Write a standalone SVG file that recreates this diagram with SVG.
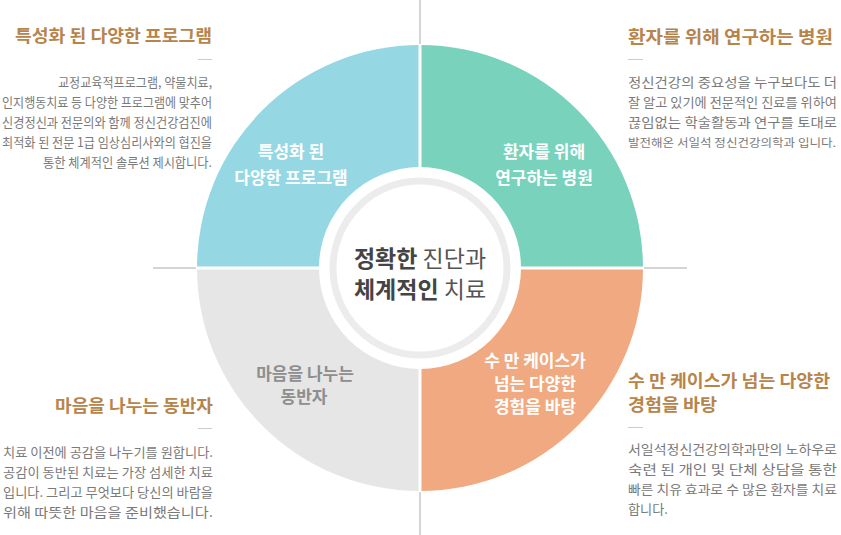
<svg xmlns="http://www.w3.org/2000/svg" width="841" height="535" viewBox="0 0 841 535">
<style>
text{font-family:"Noto Sans CJK KR","Noto Sans",sans-serif;}
.hd{font-size:17.5px;font-weight:bold;fill:#b7844b;}
.bd{font-size:13px;fill:#7a7a7a;}
.sm{font-size:11.5px;}
.ql{font-size:17px;font-weight:bold;fill:#ffffff;text-anchor:middle;}
.qg{font-size:17px;font-weight:bold;fill:#8e8e8e;text-anchor:middle;}
.guide{stroke:#d5d5d5;stroke-width:2;fill:none;}
.dash{stroke:#cccccc;stroke-width:1;}
.ct{font-size:23px;fill:#555;text-anchor:middle;}
.ctb{font-weight:bold;fill:#444;}
.re{text-anchor:end;}
</style>
<g id="connectors">
<line class="guide" x1="420" y1="0" x2="420" y2="46"/>
<line class="guide" x1="420" y1="490" x2="420" y2="535"/>
<line class="guide" x1="153" y1="268" x2="198" y2="268"/>
<line class="guide" x1="642" y1="268" x2="687" y2="268"/>
</g>
<g id="q-tl">
<path d="M420 268 L197 268 A223 223 0 0 1 420 45 Z" fill="#95d8e4"/>
<text class="ql" x="291" y="158">특성화 된</text>
<text class="ql" x="291" y="184">다양한 프로그램</text>
</g>
<g id="q-tr">
<path d="M420 268 L420 45 A223 223 0 0 1 643 268 Z" fill="#78d2bc"/>
<text class="ql" x="544" y="158">환자를 위해</text>
<text class="ql" x="544" y="184">연구하는 병원</text>
</g>
<g id="q-br">
<path d="M420 268 L643 268 A223 223 0 0 1 420 491 Z" fill="#f0a981"/>
<text class="ql" x="535" y="367">수 만 케이스가</text>
<text class="ql" x="535" y="390">넘는 다양한</text>
<text class="ql" x="535" y="413">경험을 바탕</text>
</g>
<g id="q-bl">
<path d="M420 268 L420 491 A223 223 0 0 1 197 268 Z" fill="#e6e6e6"/>
<text class="qg" x="305" y="380">마음을 나누는</text>
<text class="qg" x="304" y="403">동반자</text>
</g>
<g id="gaps">
<line x1="420" y1="44" x2="420" y2="492" stroke="#ffffff" stroke-width="3"/>
<line x1="196" y1="268" x2="644" y2="268" stroke="#ffffff" stroke-width="3"/>
</g>
<g id="center">
<circle cx="420" cy="268" r="101" fill="#ffffff"/>
<circle cx="420" cy="268" r="87" fill="#ffffff" stroke="#ececec" stroke-width="7"/>
<text class="ct" x="420" y="267"><tspan class="ctb">정확한</tspan> 진단과</text>
<text class="ct" x="420" y="298"><tspan class="ctb">체계적인</tspan> 치료</text>
</g>
<g id="info-tl">
<text class="hd re" x="212" y="42" textLength="197" lengthAdjust="spacingAndGlyphs">특성화 된 다양한 프로그램</text>
<line class="dash" x1="198" y1="59.5" x2="212" y2="59.5"/>
<text class="bd re" x="212" y="87" textLength="154" lengthAdjust="spacingAndGlyphs">교정교육적프로그램, 약물치료,</text>
<text class="bd re" x="212" y="107" textLength="210" lengthAdjust="spacingAndGlyphs">인지행동치료 등 다양한 프로그램에 맞추어</text>
<text class="bd re" x="212" y="127" textLength="210" lengthAdjust="spacingAndGlyphs">신경정신과 전문의와 함께 정신건강검진에</text>
<text class="bd re" x="212" y="147" textLength="210" lengthAdjust="spacingAndGlyphs">최적화 된 전문 1급 임상심리사와의 협진을</text>
<text class="bd re" x="212" y="167" textLength="169" lengthAdjust="spacingAndGlyphs">통한 체계적인 솔루션 제시합니다.</text>
</g>
<g id="info-tr">
<text class="hd re" x="833" y="43" textLength="205" lengthAdjust="spacingAndGlyphs">환자를 위해 연구하는 병원</text>
<line class="dash" x1="628" y1="59.5" x2="643" y2="59.5"/>
<text class="bd re" x="837" y="87" textLength="209" lengthAdjust="spacingAndGlyphs">정신건강의 중요성을 누구보다도 더</text>
<text class="bd re" x="837" y="107" textLength="209" lengthAdjust="spacingAndGlyphs">잘 알고 있기에 전문적인 진료를 위하여</text>
<text class="bd re" x="837" y="127" textLength="209" lengthAdjust="spacingAndGlyphs">끊임없는 학술활동과 연구를 토대로</text>
<text class="bd sm re" x="836" y="147" textLength="208" lengthAdjust="spacingAndGlyphs">발전해온 서일석 정신건강의학과 입니다.</text>
</g>
<g id="info-bl">
<text class="hd re" x="213" y="412" textLength="158" lengthAdjust="spacingAndGlyphs">마음을 나누는 동반자</text>
<line class="dash" x1="198" y1="428.5" x2="212" y2="428.5"/>
<text class="bd" x="3" y="457" textLength="210" lengthAdjust="spacingAndGlyphs">치료 이전에 공감을 나누기를 원합니다.</text>
<text class="bd" x="3" y="477" textLength="210" lengthAdjust="spacingAndGlyphs">공감이 동반된 치료는 가장 섬세한 치료</text>
<text class="bd" x="3" y="497" textLength="210" lengthAdjust="spacingAndGlyphs">입니다. 그리고 무엇보다 당신의 바람을</text>
<text class="bd" x="3" y="517" textLength="210" lengthAdjust="spacingAndGlyphs">위해  따뜻한  마음을  준비했습니다.</text>
</g>
<g id="info-br">
<text class="hd" x="628" y="387" textLength="202" lengthAdjust="spacingAndGlyphs">수 만 케이스가 넘는 다양한</text>
<text class="hd" x="628" y="411" textLength="89" lengthAdjust="spacingAndGlyphs">경험을 바탕</text>
<line class="dash" x1="628" y1="427.5" x2="643" y2="427.5"/>
<text class="bd re" x="837" y="454" textLength="209" lengthAdjust="spacingAndGlyphs">서일석정신건강의학과만의 노하우로</text>
<text class="bd re" x="837" y="474" textLength="209" lengthAdjust="spacingAndGlyphs">숙련 된 개인 및 단체 상담을 통한</text>
<text class="bd re" x="837" y="494" textLength="209" lengthAdjust="spacingAndGlyphs">빠른 치유 효과로 수 많은 환자를 치료</text>
<text class="bd" x="628" y="514" textLength="40" lengthAdjust="spacingAndGlyphs">합니다.</text>
</g>
</svg>
